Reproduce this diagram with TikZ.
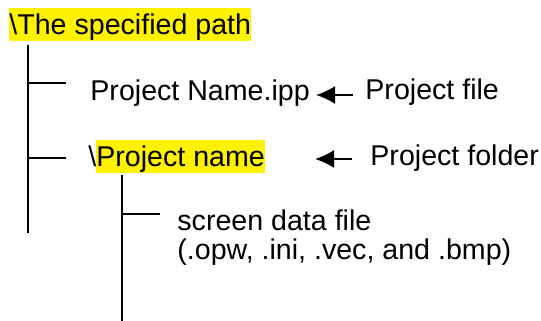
\documentclass[tikz,border=0pt]{standalone}
\usepackage{fontspec}
\setmainfont{Liberation Sans}
\usepackage{xcolor}
\usetikzlibrary{arrows.meta,positioning}
\tikzstyle{entry} = [inner sep=0, anchor=base west, text height=10pt, text depth=3pt,
	font=\fontsize{14.3}{17}\selectfont]
\tikzstyle{branch} = [line width=1pt]
\tikzstyle{pointer} = [line width=1pt, -{Latex[length=9.5pt,width=9pt]}]
\newcommand{\marked}[1]{{\setlength{\fboxsep}{0pt}\colorbox{yellow}{\rule[-3.5pt]{0pt}{16.5pt}#1}}}

\begin{document}
\begin{tikzpicture}[x=0.5pt, y=-0.5pt]
		\useasboundingbox (0,0) rectangle (541,321);
		\node[entry] (root) at (9,34) {\marked{\textbackslash The specified path}};	% Wurzelpfad
		\node[entry] (ipp) at (90,100) {Project Name.ipp};							% Projektdatei
		\node[entry] (projdir) at (88,166) {\textbackslash\marked{Project name}};	% Projektordner
		\node[entry] (screen) at (177,230) {screen data file};
		\node[entry] (screenext) at (177,259) {(.opw, .ini, .vec, and .bmp)};
		\node[entry] (filelbl) at (365,99) {Project file};
		\node[entry] (folderlbl) at (370,165) {Project folder};
		
		% Knickpunkte der Baumlinien
		\coordinate (trunk-top) at (28,45);
		\coordinate (trunk-end) at (28,233);
		\coordinate (fork-ipp) at (28,83);
		\coordinate (leaf-ipp) at (66,83);
		\coordinate (fork-dir) at (28,158);
		\coordinate (leaf-dir) at (66,158);
		\coordinate (sub-top) at (122,175);
		\coordinate (sub-end) at (122,321);
		\coordinate (fork-screen) at (122,214);
		\coordinate (leaf-screen) at (160,214);
		\coordinate (tip-file) at (316,95);
		\coordinate (tip-folder) at (315,159);
		
		% Baum
		\draw[branch] (trunk-top) -- (trunk-end);
		\draw[branch] (fork-ipp) -- (leaf-ipp);
		\draw[branch] (fork-dir) -- (leaf-dir);
		\draw[branch] (sub-top) -- (sub-end);
		\draw[branch] (fork-screen) -- (leaf-screen);
		
		% Hinweispfeile
		\draw[pointer] ([xshift=-6pt,yshift=-1.5pt]filelbl.west) -- (tip-file);
		\draw[pointer] ([xshift=-9pt,yshift=-0.5pt]folderlbl.west) -- (tip-folder);
		\end{tikzpicture}
\end{document}
